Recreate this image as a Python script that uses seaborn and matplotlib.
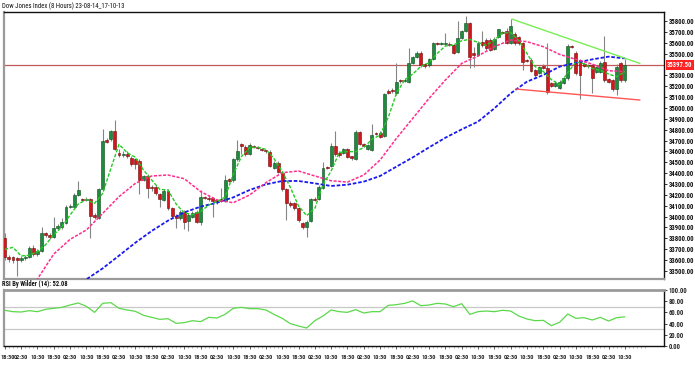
import os
import numpy as np
import pandas as pd
import matplotlib
matplotlib.use("Agg")
import matplotlib.pyplot as plt
import matplotlib.transforms as mtransforms
from matplotlib import font_manager
import seaborn as sns

# ---------------------------------------------
# Dados (candles de 8 horas)
# ---------------------------------------------
opens = [
    33800, 33625, 33625, 33620, 33600, 33620, 33630, 33708, 33656, 33680,
    33846, 33835, 33810, 33892, 33900, 33944, 34092, 34092, 34199, 34165,
    34155, 34159, 34015, 33984, 34251, 34705, 34712, 34788, 34590, 34570,
    34580, 34536, 34527, 34515, 34340, 34374, 34270, 34270, 34208, 34153,
    34239, 34076, 34010, 33984, 34046, 33963, 34000, 34046, 33954, 34180,
    34170, 34168, 34150, 34165, 34140, 34350, 34337, 34527, 34665, 34644,
    34576, 34650, 34640, 34620, 34610, 34598, 34450, 34496, 34404, 34251,
    34128, 34122, 34076, 33938, 33907, 33963, 34165, 34159, 34260, 34460,
    34469, 34650, 34590, 34588, 34619, 34558, 34527, 34776, 34665, 34619,
    34613, 34770, 34772, 34742, 35159, 35165, 35140, 35257, 35250, 35242,
    35410, 35472, 35508, 35400, 35395, 35447, 35594, 35590, 35590, 35590,
    35579, 35518, 35640, 35711, 35778, 35508, 35487, 35610, 35625, 35625,
    35540, 35656, 35700, 35711, 35600, 35680, 35650, 35594, 35440, 35441,
    35349, 35324, 35386, 35364, 35226, 35200, 35180, 35230, 35272, 35570,
    35508, 35441, 35400, 35395, 35395, 35334, 35334, 35426, 35270, 35257,
    35171, 35410, 35257,
]
highs = [
    33846, 33647, 33640, 33630, 33640, 33650, 33730, 33735, 33700, 33908,
    33860, 33850, 33993, 33930, 33990, 34110, 34115, 34215, 34328, 34175,
    34180, 34170, 34030, 34265, 34803, 34720, 34800, 34889, 34620, 34600,
    34600, 34560, 34540, 34530, 34385, 34390, 34290, 34290, 34220, 34250,
    34250, 34090, 34020, 34060, 34060, 34030, 34050, 34060, 34245, 34190,
    34200, 34180, 34160, 34260, 34383, 34360, 34540, 34705, 34680, 34660,
    34680, 34660, 34650, 34630, 34615, 34610, 34510, 34510, 34420, 34260,
    34140, 34130, 34090, 33950, 33965, 34170, 34180, 34290, 34503, 34470,
    34674, 34791, 34600, 34630, 34630, 34560, 34800, 34790, 34680, 34670,
    34852, 34780, 34790, 35140, 35170, 35180, 35416, 35270, 35275, 35548,
    35480, 35520, 35520, 35410, 35460, 35610, 35610, 35610, 35686, 35610,
    35590, 35803, 35720, 35846, 35790, 35564, 35615, 35711, 35640, 35640,
    35650, 35730, 35710, 35740, 35815, 35700, 35660, 35610, 35450, 35460,
    35360, 35390, 35400, 35600, 35240, 35245, 35255, 35280, 35585, 35580,
    35520, 35450, 35410, 35400, 35400, 35390, 35430, 35662, 35280, 35270,
    35400, 35420, 35447,
]
lows = [
    33605, 33585, 33570, 33455, 33580, 33600, 33616, 33640, 33640, 33670,
    33810, 33790, 33800, 33880, 33890, 33930, 34080, 34085, 34190, 34140,
    34145, 33800, 33980, 33975, 34240, 34680, 34700, 34610, 34550, 34550,
    34540, 34470, 34440, 34205, 34330, 34168, 34240, 34200, 34090, 34140,
    34060, 33990, 33892, 33970, 33883, 33868, 33990, 33940, 33923, 34160,
    34140, 34000, 34120, 34130, 34130, 34320, 34320, 34510, 34580, 34560,
    34570, 34630, 34620, 34600, 34590, 34455, 34440, 34400, 34240, 33969,
    34090, 34060, 33955, 33890, 33815, 33950, 34140, 34150, 34250, 34440,
    34460, 34560, 34550, 34580, 34540, 34520, 34520, 34660, 34640, 34610,
    34600, 34750, 34720, 34730, 35130, 35140, 35120, 35230, 35240, 35230,
    35400, 35460, 35380, 35370, 35380, 35440, 35575, 35580, 35580, 35570,
    35500, 35505, 35630, 35700, 35364, 35374, 35475, 35560, 35530, 35520,
    35530, 35640, 35680, 35590, 35590, 35580, 35580, 35349, 35420, 35330,
    35280, 35310, 35360, 35128, 35190, 35190, 35170, 35220, 35260, 35550,
    35300, 35079, 35380, 35370, 35134, 35320, 35320, 35240, 35230, 35160,
    35119, 35240, 35240,
]
closes = [
    33625, 33610, 33601, 33600, 33620, 33625, 33708, 33656, 33680, 33846,
    33830, 33810, 33892, 33915, 33948, 34092, 34100, 34199, 34245, 34155,
    34165, 34006, 33993, 34251, 34699, 34690, 34788, 34619, 34570, 34580,
    34560, 34481, 34481, 34337, 34370, 34260, 34260, 34220, 34159, 34239,
    34076, 34006, 33990, 34046, 33954, 34015, 34036, 33954, 34177, 34170,
    34160, 34147, 34140, 34140, 34337, 34330, 34527, 34607, 34653, 34576,
    34659, 34640, 34630, 34610, 34600, 34466, 34496, 34413, 34251, 34122,
    34107, 34076, 33969, 33901, 33954, 34159, 34150, 34276, 34444, 34450,
    34650, 34576, 34570, 34619, 34552, 34540, 34782, 34668, 34650, 34659,
    34751, 34760, 34735, 35128, 35140, 35153, 35242, 35245, 35260, 35410,
    35472, 35508, 35395, 35390, 35447, 35594, 35585, 35594, 35594, 35580,
    35508, 35640, 35711, 35778, 35466, 35487, 35600, 35580, 35548, 35533,
    35630, 35723, 35690, 35600, 35754, 35594, 35594, 35426, 35430, 35343,
    35303, 35380, 35370, 35150, 35202, 35230, 35242, 35272, 35570, 35560,
    35318, 35303, 35390, 35385, 35272, 35380, 35416, 35257, 35242, 35171,
    35380, 35257, 35397.5,
]

# Médias móveis (lidas a cada 2 / 4 candles)
ma_fast_idx = list(range(0, 153, 2))
ma_fast = [
    33699, 33717, 33638, 33644, 33678, 33742, 33834, 33905, 34015, 34116,
    34156, 34122, 34214, 34444, 34665, 34588, 34546, 34429, 34337, 34251,
    34245, 34116, 34033, 34018, 34046, 34107, 34138, 34180, 34389, 34552,
    34634, 34638, 34619, 34533, 34417, 34269, 34098, 34009, 34076, 34294,
    34420, 34591, 34598, 34598, 34637, 34711, 34751, 34913, 35134, 35257,
    35312, 35383, 35416, 35502, 35570, 35579, 35619, 35631, 35603, 35575,
    35625, 35689, 35695, 35619, 35502, 35380, 35337, 35260, 35214, 35324,
    35423, 35407, 35364, 35346, 35312, 35288, 35334,
]
ma_mid_idx = list(range(4, 153, 4))
ma_mid = [
    33200, 33426, 33656, 33791, 33877, 34030, 34184, 34306, 34374, 34383,
    34349, 34230, 34153, 34128, 34199, 34312, 34404, 34420, 34374, 34330,
    34318, 34383, 34521, 34720, 34904, 35088, 35257, 35410, 35478, 35564,
    35625, 35610, 35564, 35493, 35447, 35404, 35343, 35334,
]
ma_slow_idx = list(range(16, 153, 4))
ma_slow = [
    33300, 33423, 33524, 33641, 33760, 33868, 33963, 34039, 34092, 34128,
    34177, 34245, 34297, 34328, 34328, 34306, 34282, 34294, 34322, 34374,
    34460, 34545, 34637, 34726, 34803, 34874, 34996, 35134, 35242, 35303,
    35380, 35416, 35447, 35472, 35456,
]

# Linhas de tendência
trend_up_x = [124.3, 155.7]
trend_up_y = [35818, 35410]
trend_dn_x = [125.3, 155.7]
trend_dn_y = [35174, 35073]

last_price = 35397.5

# RSI (Wilder 14), lido a cada 2 candles
rsi_idx = list(range(0, 153, 2))
rsi = [
    63.7, 61.3, 60.7, 63.1, 61.3, 65.5, 67.3, 69.0, 73.2, 76.8,
    70.8, 60.1, 76.2, 77.4, 67.3, 64.3, 61.9, 54.8, 51.2, 47.6,
    48.8, 40.5, 41.7, 45.2, 43.5, 51.2, 50.0, 56.5, 67.3, 69.0,
    66.7, 66.7, 64.3, 56.5, 49.4, 39.9, 35.7, 32.1, 45.2, 53.6,
    64.3, 61.3, 60.1, 64.9, 58.9, 61.3, 61.3, 72.6, 73.8, 76.2,
    80.4, 72.0, 73.2, 76.2, 75.0, 70.2, 75.6, 56.5, 61.3, 62.5,
    61.3, 63.7, 62.5, 53.6, 48.2, 45.2, 45.8, 36.3, 42.3, 57.1,
    49.4, 50.6, 46.4, 51.2, 44.6, 50.6, 52.08,
]

time_cycle = ["18:30", "02:30", "10:30"]
tick_labels = time_cycle * 13

# ---------------------------------------------
# Fonte estreita para os textos (se existir)
# ---------------------------------------------
sns.set_theme(style="white")
plt.rcParams["font.family"] = ["DejaVu Sans"]

arquivos = {os.path.basename(f.fname): f.fname for f in font_manager.fontManager.ttflist}


def achar_fonte(nomes):
    for n in nomes:
        for base, caminho in arquivos.items():
            if base.startswith(n):
                return caminho
    return None


narrow_bold = achar_fonte(["LiberationSansNarrow-Bold.", "RobotoCondensed-Bold"])
narrow_reg = achar_fonte(["LiberationSansNarrow-Regular", "RobotoCondensed-Regular"])

if narrow_bold:
    fp_eixo = font_manager.FontProperties(fname=narrow_bold, size=4.8)
    fp_hora = font_manager.FontProperties(fname=narrow_bold, size=4.5)
    fp_rsi = font_manager.FontProperties(fname=narrow_bold, size=4.7)
else:
    cond = achar_fonte(["DejaVuSansCondensed-Bold."])
    if cond:
        fp_eixo = font_manager.FontProperties(fname=cond, size=3.9)
        fp_hora = font_manager.FontProperties(fname=cond, size=3.6)
        fp_rsi = font_manager.FontProperties(fname=cond, size=3.8)
    else:
        fp_eixo = font_manager.FontProperties(family="DejaVu Sans", size=3.5, weight="bold")
        fp_hora = font_manager.FontProperties(family="DejaVu Sans", size=3.3, weight="bold")
        fp_rsi = font_manager.FontProperties(family="DejaVu Sans", size=3.5, weight="bold")
if narrow_reg:
    fp_tit = font_manager.FontProperties(fname=narrow_reg, size=4.9)
else:
    fp_tit = font_manager.FontProperties(family="DejaVu Sans", size=3.6)

df = pd.DataFrame({"open": opens, "high": highs, "low": lows, "close": closes})
df["idx"] = np.arange(len(df))
df["high"] = df[["high", "open", "close"]].max(axis=1)
df["low"] = df[["low", "open", "close"]].min(axis=1)
df["sobe"] = df["close"] >= df["open"]

fig = plt.figure(figsize=(6.95, 3.75), dpi=100)
ax = fig.add_axes([4 / 695, 1 - 279 / 375, 660 / 695, 267 / 375])
ax_rsi = fig.add_axes([4 / 695, 1 - 346 / 375, 660 / 695, 56 / 375])

# Pavios
ax.vlines(df["idx"], df["low"], df["high"], color="#858585", linewidth=0.8, zorder=2)

# Corpos
corpo = (df["close"] - df["open"]).abs().clip(lower=10)
base = df[["open", "close"]].min(axis=1)
cores = np.where(df["sobe"], "#1d8c3e", "#d4151b")
bordas = np.where(df["sobe"], "#0c4a1c", "#6a0a0a")
ax.bar(df["idx"], corpo, bottom=base, width=0.72, color=cores,
       edgecolor=bordas, linewidth=0.4, zorder=3)

# Médias móveis
sns.lineplot(x=ma_slow_idx, y=ma_slow, ax=ax, color="#1a1aee", linewidth=1.3,
             linestyle=(0, (2, 1)), zorder=4)
sns.lineplot(x=ma_mid_idx, y=ma_mid, ax=ax, color="#ff2d8c", linewidth=1.1,
             linestyle=(0, (2, 1)), zorder=4)
sns.lineplot(x=ma_fast_idx, y=ma_fast, ax=ax, color="#22cc22", linewidth=1.0,
             linestyle=(0, (2.5, 1.2)), zorder=5)

# Linhas de tendência
sns.lineplot(x=trend_up_x, y=trend_up_y, ax=ax, color="#77ee55", linewidth=1.0, zorder=5)
sns.lineplot(x=trend_dn_x, y=trend_dn_y, ax=ax, color="#ff5555", linewidth=1.0, zorder=5)

# Preço atual
ax.axhline(last_price, color="#c05a5a", linewidth=0.9, zorder=1)
trans = mtransforms.blended_transform_factory(ax.transAxes, ax.transData)
ax.text(1.005, last_price, f"{last_price:.2f}", transform=trans, color="white",
        fontproperties=fp_eixo, va="center", ha="left",
        bbox=dict(boxstyle="square,pad=0.15", facecolor="#ff2222", edgecolor="none"))

xmax = 161.6
ax.set_xlim(-0.2, xmax)
ax.set_ylim(33426, 35883)
ax.yaxis.tick_right()
yticks = [t for t in range(33500, 35900, 100) if t != 35400]
ax.set_yticks(yticks)
ax.set_yticklabels([f"{t:.2f}" for t in yticks])
for rot in ax.get_yticklabels():
    rot.set_fontproperties(fp_eixo)
ax.tick_params(axis="y", length=2, width=0.6, pad=1.5, right=True, colors="#111111")
ax.set_xticks([])
ax.set_xlabel("")
ax.set_ylabel("")

for lado, cor, lw in [("left", "#9a9a9a", 1.6), ("bottom", "#9a9a9a", 1.6),
                      ("top", "#111111", 1.0), ("right", "#111111", 1.0)]:
    ax.spines[lado].set_color(cor)
    ax.spines[lado].set_linewidth(lw)

# Painel do RSI
for nivel in [30, 70]:
    ax_rsi.axhline(nivel, color="#c8c8c8", linewidth=0.9, zorder=1)
sns.lineplot(x=rsi_idx, y=rsi, ax=ax_rsi, color="#5bd84a", linewidth=0.9, zorder=3)
ax_rsi.set_xlim(-0.2, xmax)
ax_rsi.set_ylim(0, 100)
ax_rsi.yaxis.tick_right()
ax_rsi.set_yticks([0, 20, 40, 60, 80, 100])
ax_rsi.set_yticklabels([f"{v:.2f}" for v in [0, 20, 40, 60, 80, 100]])
for rot in ax_rsi.get_yticklabels():
    rot.set_fontproperties(fp_eixo)
ax_rsi.tick_params(axis="y", length=2, width=0.6, pad=1.5, right=True)
ax_rsi.set_xticks(list(range(0, 153, 4)))
ax_rsi.set_xticklabels(tick_labels)
for rot in ax_rsi.get_xticklabels():
    rot.set_fontproperties(fp_hora)
ax_rsi.set_xticks(list(range(0, 158)), minor=True)
ax_rsi.tick_params(axis="x", which="major", length=2.5, width=0.5, pad=4, bottom=True)
ax_rsi.tick_params(axis="x", which="minor", length=1.5, width=0.4, bottom=True,
                   color="#777777")
# primeiro rótulo um pouco para a direita, para não cortar na borda
primeiro = ax_rsi.get_xticklabels()[0]
primeiro.set_transform(primeiro.get_transform()
                       + mtransforms.ScaledTranslation(2.5 / 100, 0, fig.dpi_scale_trans))
ax_rsi.set_xlabel("")
ax_rsi.set_ylabel("")
for lado, cor, lw in [("left", "#9a9a9a", 1.6), ("top", "#9a9a9a", 2.0),
                      ("bottom", "#111111", 1.0), ("right", "#111111", 1.0)]:
    ax_rsi.spines[lado].set_color(cor)
    ax_rsi.spines[lado].set_linewidth(lw)

# Títulos
fig.text(2 / 695, 1 - 6 / 375, "Dow Jones Index (8 Hours) 23-08-14_17-10-13",
         fontproperties=fp_tit, va="center", ha="left", color="#111111")
fig.text(2 / 695, 1 - 284.5 / 375, "RSI By Wilder (14): 52.08",
         fontproperties=fp_rsi, va="center", ha="left", color="#111111")

fig.savefig("out.png", dpi=100, facecolor="white")
plt.close(fig)
